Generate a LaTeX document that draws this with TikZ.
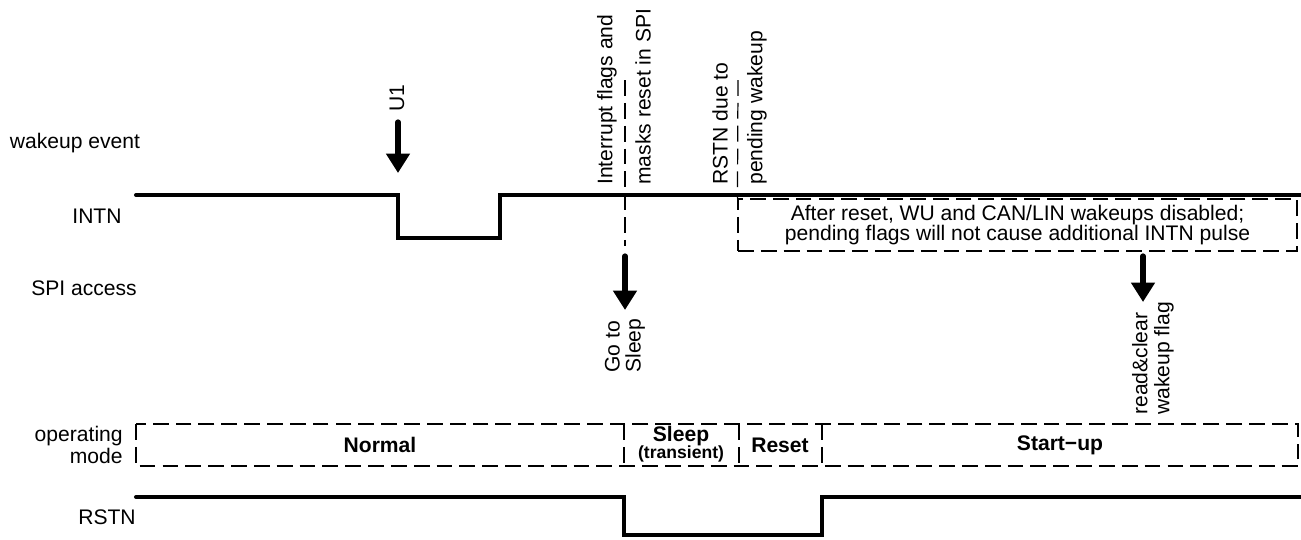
\documentclass[tikz,border=0pt]{standalone}
\usepackage{fontspec}
\setmainfont{Liberation Sans}
\usetikzlibrary{arrows.meta}

\begin{document}
\begin{tikzpicture}[x=0.02cm, y=-0.02cm,
    sig/.style={line width=2.3pt, line cap=round},
    dbox/.style={draw, line width=0.7pt, dash pattern=on 9pt off 4pt},
    lbl/.style={font=\fontsize{12}{12.5}\selectfont, inner sep=0pt},
    vlbl/.style={lbl, rotate=90, anchor=west},
    mode/.style={font=\fontsize{12}{12.5}\selectfont\bfseries, inner sep=0pt},
    evarrow/.style={line width=3pt, line cap=round, -{Triangle[width=13pt,length=11pt]}}]
  \useasboundingbox (0,0) rectangle (1301,539);

  \node[lbl] (wake) at (75,143) {wakeup event};
  \node[lbl] (intn) at (97,216) {INTN};
  \node[lbl] (spi) at (84,288) {SPI access};
  \node[lbl, align=right, anchor=east] (opm) at (123,445) {operating\\mode};
  \node[lbl] (rstn) at (107,517) {RSTN};

  \draw[sig] (136,195) -- (398,195) -- (398,238) -- (500,238) -- (500,195) -- (1301,195);
  \draw[sig] (136,497) -- (624,497) -- (624,535) -- (822,535) -- (822,497) -- (1301,497);

  \coordinate (u1top) at (398,122);
  \coordinate (u1tip) at (398,173);
  \draw[evarrow] (u1top) -- (u1tip);
  \node[vlbl] (u1) at (397,112) {U1};

  \node[vlbl] (irq1) at (607,185) {Interrupt flags and};
  \node[vlbl] (irq2) at (643,185) {masks reset in SPI};
  \coordinate (irqtop) at (625,80);
  \coordinate (irqbot) at (625,246);
  \draw[dbox] (irqtop) -- (irqbot);

  \coordinate (gotop) at (625,256);
  \coordinate (gotip) at (625,310);
  \draw[evarrow] (gotop) -- (gotip);
  \node[vlbl, align=left, font=\fontsize{12}{12}\selectfont] (gosleep) at (625,373) {Go to\\Sleep};

  \node[vlbl] (rd1) at (720,185) {RSTN due to};
  \node[vlbl] (rd2) at (757,185) {pending wakeup};
  \node[dbox, lbl, align=center, minimum width=11.18cm, minimum height=1.04cm,
        font=\fontsize{12}{11.5}\selectfont] (note) at (1017.5,225)
    {After reset, WU and CAN/LIN wakeups disabled;\\pending flags will not cause additional INTN pulse};
  \coordinate (rdtop) at (738,80);
  \draw[dbox] (rdtop) -- (note.north west);

  \coordinate (rctop) at (1143,256);
  \coordinate (rctip) at (1143,302);
  \draw[evarrow] (rctop) -- (rctip);
  \node[vlbl, align=left] (rdclr) at (1153,415) {read\&clear\\wakeup flag};

  \draw[dbox] (136,424) rectangle (1298,466);
  \draw[dbox] (624,424) -- (624,466);
  \draw[dbox] (739,424) -- (739,466);
  \draw[dbox] (822,424) -- (822,466);
  \node[mode] (normal) at (380,445) {Normal};
  \node[mode] (sleep) at (681,436) {Sleep};
  \node[font=\fontsize{10}{10}\selectfont\bfseries, inner sep=0pt] (trans) at (681,454) {(transient)};
  \node[mode] (reset) at (780,445) {Reset};
  \node[mode] (startup) at (1060,445) {Start−up};
\end{tikzpicture}
\end{document}
